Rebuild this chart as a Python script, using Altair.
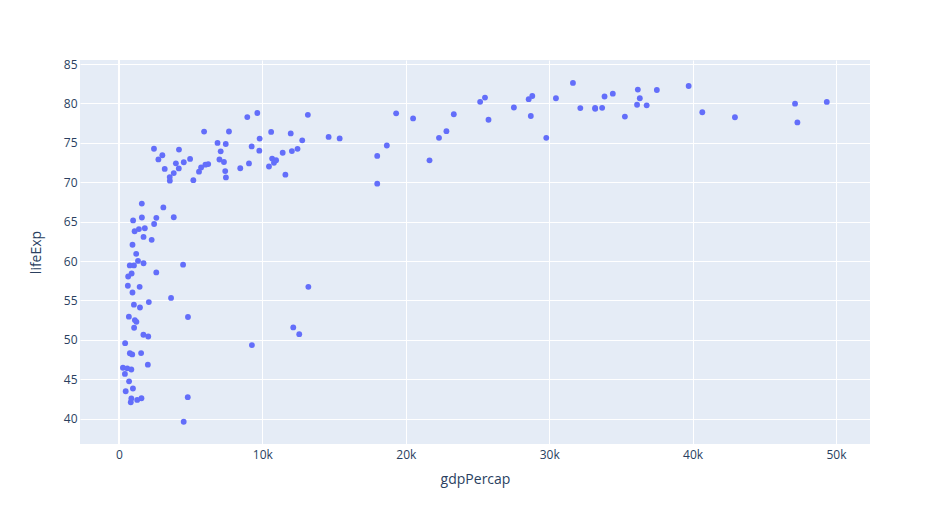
import altair as alt
import pandas as pd

countries = ["Afghanistan","Albania","Algeria","Angola","Argentina","Australia","Austria","Bahrain","Bangladesh","Belgium",
"Benin","Bolivia","Bosnia and Herzegovina","Botswana","Brazil","Bulgaria","Burkina Faso","Burundi","Cambodia","Cameroon",
"Canada","Central African Republic","Chad","Chile","China","Colombia","Comoros","Congo, Dem. Rep.","Congo, Rep.","Costa Rica",
"Cote d'Ivoire","Croatia","Cuba","Czech Republic","Denmark","Djibouti","Dominican Republic","Ecuador","Egypt","El Salvador",
"Equatorial Guinea","Eritrea","Ethiopia","Finland","France","Gabon","Gambia","Germany","Ghana","Greece",
"Guatemala","Guinea","Guinea-Bissau","Haiti","Honduras","Hong Kong, China","Hungary","Iceland","India","Indonesia",
"Iran","Iraq","Ireland","Israel","Italy","Jamaica","Japan","Jordan","Kenya","Korea, Dem. Rep.",
"Korea, Rep.","Kuwait","Lebanon","Lesotho","Liberia","Libya","Madagascar","Malawi","Malaysia","Mali",
"Mauritania","Mauritius","Mexico","Mongolia","Montenegro","Morocco","Mozambique","Myanmar","Namibia","Nepal",
"Netherlands","New Zealand","Nicaragua","Niger","Nigeria","Norway","Oman","Pakistan","Panama","Paraguay",
"Peru","Philippines","Poland","Portugal","Puerto Rico","Reunion","Romania","Rwanda","Sao Tome and Principe","Saudi Arabia",
"Senegal","Serbia","Sierra Leone","Singapore","Slovak Republic","Slovenia","Somalia","South Africa","Spain","Sri Lanka",
"Sudan","Swaziland","Sweden","Switzerland","Syria","Taiwan","Tanzania","Thailand","Togo","Trinidad and Tobago",
"Tunisia","Turkey","Uganda","United Kingdom","United States","Uruguay","Venezuela","Vietnam","West Bank and Gaza","Yemen, Rep.",
"Zambia","Zimbabwe"]

life_exp = [43.828,76.423,72.301,42.731,75.32,81.235,79.829,75.635,64.062,79.441,
56.728,65.554,74.852,50.728,72.39,73.005,52.295,49.58,59.723,50.43,
80.653,44.741,50.651,78.553,72.961,72.889,65.152,46.462,55.322,78.782,
48.328,75.748,78.273,76.486,78.332,54.791,72.235,74.994,71.338,71.878,
51.579,58.04,52.947,79.313,80.657,56.735,59.448,79.406,60.022,79.483,
70.259,56.007,46.388,60.916,70.198,82.208,73.338,81.757,64.698,70.65,
70.964,59.545,78.885,80.745,80.546,72.567,82.603,72.535,54.11,67.297,
78.623,77.588,71.993,42.592,45.678,73.952,59.443,48.303,74.241,54.467,
64.164,72.801,76.195,66.803,74.543,71.164,42.082,62.069,52.906,63.785,
79.762,80.204,72.899,56.867,46.859,80.196,75.64,65.483,75.537,71.752,
71.421,71.688,75.563,78.098,78.746,76.442,72.476,46.242,65.528,72.777,
63.062,74.002,42.568,79.972,74.663,77.926,48.159,49.339,80.941,72.396,
58.556,39.613,80.884,81.701,74.143,78.4,52.517,70.616,58.42,69.819,
73.923,71.777,51.542,79.425,78.242,76.384,73.747,74.249,73.422,62.698,
42.384,43.487]

gdp_percap = [974.58,5937.03,6223.37,4797.23,12779.38,34435.37,36126.49,29796.05,1391.25,33692.61,
1441.28,3822.14,7446.30,12569.85,9065.80,10680.79,1217.03,430.07,1713.78,2042.10,
36319.24,706.02,1704.06,13171.64,4959.11,7006.58,986.15,277.55,3632.56,9645.06,
1544.75,14619.22,8948.10,22833.31,35278.42,2082.48,6025.37,6873.26,5581.18,5728.35,
12154.09,641.37,690.81,33207.08,30470.02,13206.48,752.75,32170.37,1327.61,27538.41,
5186.05,942.65,579.23,1201.64,3548.33,39724.98,18008.94,36180.79,2452.21,3540.65,
11605.71,4471.06,40675.99,25523.28,28569.72,7320.88,31656.07,4519.46,1463.25,1593.07,
23348.14,47306.99,10461.06,1569.33,414.51,12057.50,1044.77,759.35,12451.66,1042.58,
1803.15,10956.99,11977.57,3095.77,9253.90,3820.18,823.69,944.00,4811.06,1091.36,
36797.93,25185.01,2749.32,619.68,2013.98,49357.19,22316.19,2605.95,9809.19,4172.84,
7408.91,3190.48,15389.92,20509.65,19328.71,7670.12,10808.48,863.09,1598.44,21654.83,
1712.47,9786.53,862.54,47143.18,18678.31,25768.26,926.14,9269.66,28821.06,3970.10,
2602.39,4513.48,33859.75,37506.42,4184.55,28718.28,1107.48,7458.40,882.97,18008.51,
7092.92,8458.28,1056.38,33203.26,42951.65,10611.46,11415.81,2441.58,3025.35,2280.77,
1271.21,469.71]

x_ticks = [0, 10000, 20000, 30000, 40000, 50000]
y_ticks = [40, 45, 50, 55, 60, 65, 70, 75, 80, 85]

df = pd.DataFrame({"country": countries, "lifeExp": life_exp, "gdpPercap": gdp_percap})

font = "Open Sans"
txt = "#2a3f5f"

x_scale = alt.Scale(domain=[-2717, 52370], nice=False, zero=False)
y_scale = alt.Scale(domain=[36.79, 85.51], nice=False, zero=False)

points = alt.Chart(df).mark_circle(size=34, opacity=1, color="#636efa").encode(
    x=alt.X("gdpPercap:Q", scale=x_scale,
            axis=alt.Axis(values=x_ticks, title="gdpPercap", grid=True,
                          labelExpr="datum.value == 0 ? '0' : format(datum.value / 1000, 'd') + 'k'",
                          gridColor="white", gridWidth=1, domain=False, ticks=False,
                          labelPadding=5, labelFont=font, labelFontSize=12, labelColor=txt,
                          titleFont=font, titleFontSize=14, titleColor=txt, titleFontWeight="normal",
                          titlePadding=12)),
    y=alt.Y("lifeExp:Q", scale=y_scale,
            axis=alt.Axis(values=y_ticks, title="lifeExp", grid=True,
                          gridColor="white", gridWidth=1, domain=False, ticks=False,
                          labelPadding=3, labelFont=font, labelFontSize=12, labelColor=txt,
                          titleFont=font, titleFontSize=14, titleColor=txt, titleFontWeight="normal",
                          titlePadding=20)),
    tooltip=["country", "gdpPercap", "lifeExp"],
)

zero_line = alt.Chart(pd.DataFrame({"z": [0]})).mark_rule(color="white", strokeWidth=2).encode(
    x=alt.X("z:Q", scale=x_scale)
)

chart = alt.layer(zero_line, points).properties(
    width=790, height=384,
    background="white",
    autosize=alt.AutoSizeParams(type="none"),
    padding={"left": 72, "top": 52, "right": 64, "bottom": 64},
).configure_view(fill="#E5ECF6", strokeWidth=0)

chart.save("out.html", embed_options={"renderer": "svg", "actions": False})
